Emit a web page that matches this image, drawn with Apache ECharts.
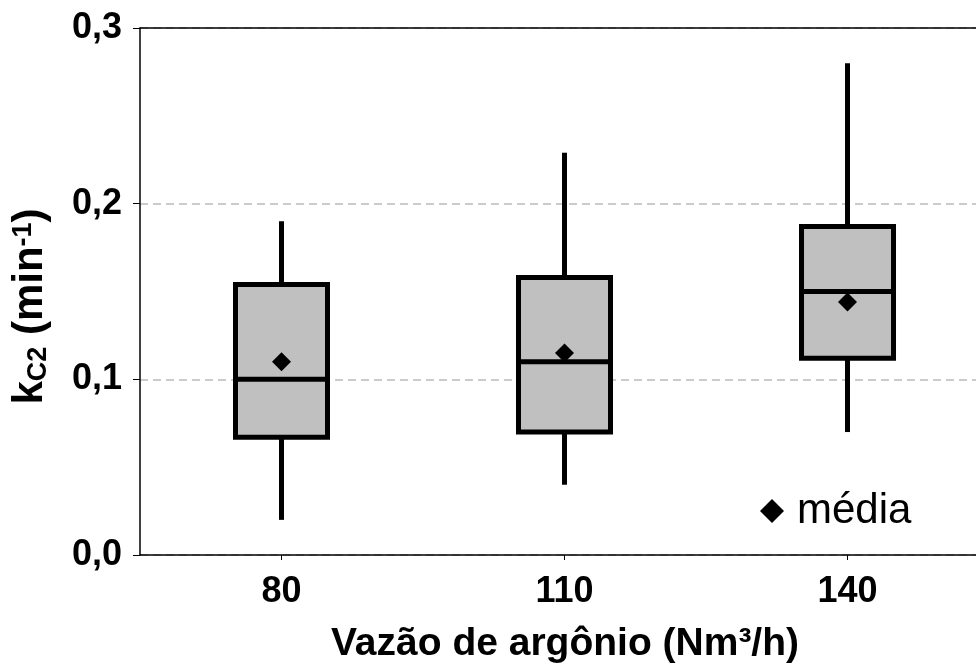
<!DOCTYPE html>
<html>
<head>
<meta charset="utf-8">
<script src="https://cdn.jsdelivr.net/npm/echarts@6/dist/echarts.min.js"></script>
<style>
  html, body { margin: 0; padding: 0; background: #fff; }
  #chart { width: 976px; height: 666px; }
</style>
</head>
<body>
<div id="chart"></div>
<script>
// vazão de argônio (Nm3/h)
var categories = ['80', '110', '140'];
// boxplot stats: [min, Q1, median, Q3, max]
var minValues = [0.020, 0.040, 0.070];
var q1Values = [0.067, 0.070, 0.112];
var medianValues = [0.100, 0.110, 0.150];
var q3Values = [0.154, 0.158, 0.187];
var maxValues = [0.190, 0.229, 0.280];
var meanValues = [0.110, 0.115, 0.144];
var yTicks = [0, 0.1, 0.2, 0.3];
var catIndex = categories.map(function (c, i) { return i; });

var boxData = categories.map(function (c, i) {
  return [i, minValues[i], q1Values[i], medianValues[i], q3Values[i], maxValues[i]];
});
var meanData = categories.map(function (c, i) {
  return [i, meanValues[i]];
});

var chart = echarts.init(document.getElementById('chart'));

function renderBox(params, api) {
  var idx = api.value(0);
  var pMin = api.coord([idx, api.value(1)]);
  var pQ1 = api.coord([idx, api.value(2)]);
  var pMed = api.coord([idx, api.value(3)]);
  var pQ3 = api.coord([idx, api.value(4)]);
  var pMax = api.coord([idx, api.value(5)]);
  var half = 46;
  var x = pMed[0];
  var lineStyle = { stroke: '#000', lineWidth: 5 };
  return {
    type: 'group',
    children: [
      { type: 'line', shape: { x1: x, y1: pMax[1], x2: x, y2: pQ3[1] }, style: lineStyle },
      { type: 'line', shape: { x1: x, y1: pQ1[1], x2: x, y2: pMin[1] }, style: lineStyle },
      {
        type: 'rect',
        shape: { x: x - half, y: pQ3[1], width: half * 2, height: pQ1[1] - pQ3[1] },
        style: { fill: '#c0c0c0', stroke: '#000', lineWidth: 5 }
      },
      { type: 'line', shape: { x1: x - half, y1: pMed[1], x2: x + half, y2: pMed[1] }, style: lineStyle }
    ]
  };
}

var option = {
  backgroundColor: '#fff',
  animation: false,
  grid: { left: 140, right: 0, top: 28, bottom: 111, containLabel: false, outerBoundsMode: 'none' },
  legend: {
    data: ['média'],
    left: 755,
    top: 485,
    icon: 'diamond',
    itemWidth: 24,
    itemHeight: 24,
    itemStyle: { color: '#000', opacity: 1 },
    textStyle: { fontFamily: 'Liberation Sans', fontSize: 42, color: '#000', padding: [0, 0, 0, 8] }
  },
  xAxis: [
    {
      type: 'value',
      // category bands are 283px wide, the plot is cut at the right edge
      min: -0.5,
      max: 2.454,
      name: 'Vazão de argônio (Nm³/h)',
      nameLocation: 'middle',
      nameGap: 70,
      nameTextStyle: { fontFamily: 'Liberation Sans', fontWeight: 'bold', fontSize: 39, color: '#000', padding: [0, 0, 0, 14] },
      axisLine: { onZero: false, lineStyle: { color: '#000', width: 1.5 } },
      axisTick: { show: true, customValues: catIndex, length: 5, lineStyle: { color: '#000' } },
      axisLabel: {
        customValues: catIndex,
        margin: 19,
        fontFamily: 'Liberation Sans',
        fontWeight: 'bold',
        fontSize: 36,
        color: '#000',
        formatter: function (v) { return categories[Math.round(v)]; }
      },
      splitLine: { show: false }
    },
    {
      type: 'value',
      position: 'top',
      min: -0.5,
      max: 2.454,
      axisLine: { show: true, onZero: false, lineStyle: { color: '#000', width: 1.5 } },
      axisTick: { show: false },
      axisLabel: { show: false },
      splitLine: { show: false }
    }
  ],
  yAxis: {
    type: 'value',
    min: yTicks[0],
    max: yTicks[yTicks.length - 1],
    interval: 0.1,
    name: '{n|k}{sub|C2}{n| (min}{sup|-1}{n|)}',
    nameLocation: 'middle',
    nameGap: 84,
    nameRotate: 90,
    nameTextStyle: {
      padding: [0, 30, 0, 0],
      rich: {
        n: { fontFamily: 'Liberation Sans', fontWeight: 'bold', fontSize: 42, color: '#000', lineHeight: 52, verticalAlign: 'middle' },
        sub: { fontFamily: 'Liberation Sans', fontWeight: 'bold', fontSize: 27, color: '#000', lineHeight: 52, verticalAlign: 'bottom', padding: [0, 0, 4, 0] },
        sup: { fontFamily: 'Liberation Sans', fontWeight: 'bold', fontSize: 27, color: '#000', lineHeight: 52, verticalAlign: 'top', padding: [6, 0, 0, 0] }
      }
    },
    axisLine: { show: true, onZero: false, lineStyle: { color: '#000', width: 1.5 } },
    axisTick: { show: true, length: 7, lineStyle: { color: '#000' } },
    axisLabel: {
      margin: 18,
      fontFamily: 'Liberation Sans',
      fontWeight: 'bold',
      fontSize: 36,
      color: '#000',
      formatter: function (v) { return v.toFixed(1).replace('.', ','); }
    },
    splitLine: { show: true, lineStyle: { color: '#bbb', type: [8, 5], width: 1.5 } }
  },
  series: [
    {
      name: 'box',
      type: 'custom',
      renderItem: renderBox,
      encode: { x: 0, y: [1, 2, 3, 4, 5] },
      data: boxData,
      z: 2
    },
    {
      name: 'média',
      type: 'scatter',
      symbol: 'diamond',
      symbolSize: 19,
      itemStyle: { color: '#000', opacity: 1 },
      data: meanData,
      z: 3
    }
  ]
};

chart.setOption(option);
</script>
</body>
</html>
